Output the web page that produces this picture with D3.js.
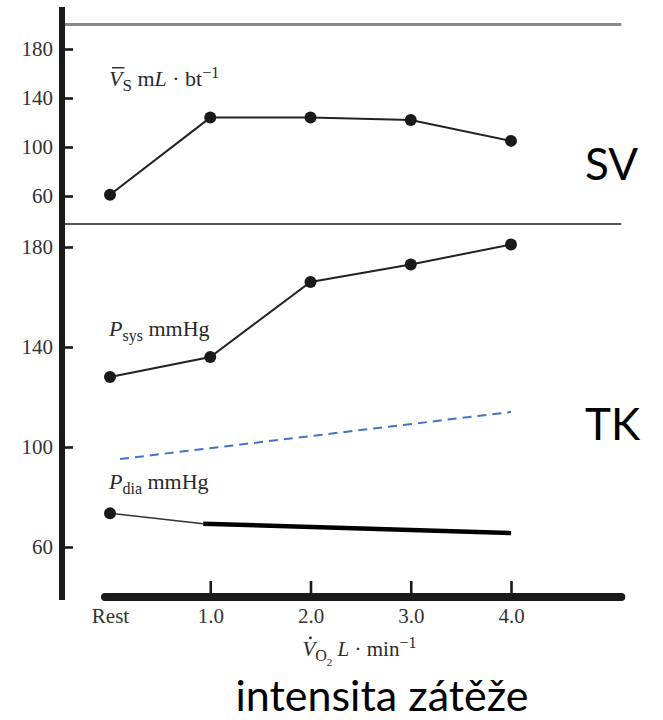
<!DOCTYPE html>
<html>
<head>
<meta charset="utf-8">
<script src="https://cdn.jsdelivr.net/npm/d3@7"></script>
<style>
  html, body { margin: 0; padding: 0; background: #fff; }
  svg { display: block; }
</style>
</head>
<body>
<svg id="chart" width="663" height="720"></svg>
<script>
// Exercise levels (VO2, L/min); 0 stands for rest
const levels = [0, 1, 2, 3, 4];
const levelLabels = ["Rest", "1.0", "2.0", "3.0", "4.0"];

// Stroke volume, mL per beat
const strokeVolume = [61, 124, 124, 122, 105];

// Systolic pressure, mmHg
const systolic = [128, 136, 166, 173, 181];

// Diastolic pressure, mmHg: measured point at rest, then the trend with load
const diastolicX = [0, 0.93];
const diastolic = [73.5, 69.3];
const diastolicTrendX = [0.93, 4];
const diastolicTrend = [69.3, 65.6];

// Mean arterial pressure trend (dashed)
const meanTrendX = [0.1, 4];
const meanTrend = [95.2, 114];

// Left axis ticks for both panels
const yTicks = [60, 100, 140, 180];

const svg = d3.select("#chart");

const serif = "'Liberation Serif', 'Times New Roman', serif";
const sans = "Lato, 'Open Sans', sans-serif";

// Scales
const x = d3.scaleLinear().domain([0, 4]).range([110, 511]);
const ySV = d3.scaleLinear().domain([60, 180]).range([196, 49]);
const yBP = d3.scaleLinear().domain([60, 180]).range([547, 247]);

const axisX = 62;           // left spine position
const xAxisY = 597;         // bottom spine position
const xSpan = [-0.05, 5.1]; // horizontal extent of the bottom spine (in VO2 units)

// Panel frame lines
svg.append("line")
  .attr("x1", axisX + 3).attr("x2", x(5.1))
  .attr("y1", ySV(200)).attr("y2", ySV(200))
  .attr("stroke", "#8a8a8a").attr("stroke-width", 3);

svg.append("line")
  .attr("x1", axisX + 3).attr("x2", x(5.1))
  .attr("y1", 224).attr("y2", 224)
  .attr("stroke", "#555").attr("stroke-width", 2);

const tickFont = 21;

// Left axes
function leftAxis(scale) {
  const g = svg.append("g")
    .attr("transform", `translate(${axisX + 3},0)`)
    .call(d3.axisLeft(scale).tickValues(yTicks).tickSize(-8).tickPadding(12));
  g.select(".domain").remove();
  g.selectAll(".tick line").attr("stroke", "#1a1a1a").attr("stroke-width", 2.6);
  g.selectAll(".tick text")
    .attr("font-family", serif).attr("font-size", tickFont).attr("fill", "#333");
  return g;
}
leftAxis(ySV);
leftAxis(yBP);

// Vertical spine
svg.append("line")
  .attr("x1", axisX).attr("x2", axisX)
  .attr("y1", 7).attr("y2", 600)
  .attr("stroke", "#1a1a1a").attr("stroke-width", 6);

// Bottom axis
const gx = svg.append("g")
  .attr("transform", `translate(0,${xAxisY})`)
  .call(d3.axisBottom(x).tickValues(levels)
    .tickFormat((d, i) => levelLabels[i])
    .tickSize(-16).tickPadding(11));
gx.select(".domain").remove();
gx.selectAll(".tick line")
  .attr("stroke", "#1a1a1a").attr("stroke-width", 2.6)
  .filter(d => d === 0).remove();
gx.selectAll(".tick text")
  .attr("font-family", serif).attr("font-size", tickFont).attr("fill", "#333");

svg.append("line")
  .attr("x1", x(xSpan[0])).attr("x2", x(xSpan[1]))
  .attr("y1", xAxisY).attr("y2", xAxisY)
  .attr("stroke", "#1a1a1a").attr("stroke-width", 8)
  .attr("stroke-linecap", "round");

// Series
function series(xs, ys, yScale, opts) {
  const pts = xs.map((v, i) => [v, ys[i]]);
  const line = d3.line().x(d => x(d[0])).y(d => yScale(d[1]));
  svg.append("path")
    .attr("d", line(pts))
    .attr("fill", "none")
    .attr("stroke", opts.color || "#222")
    .attr("stroke-width", opts.width || 2)
    .attr("stroke-dasharray", opts.dash || null);
  if (opts.dots) {
    svg.append("g").selectAll("circle")
      .data(pts.slice(0, opts.dots === true ? pts.length : opts.dots))
      .join("circle")
      .attr("cx", d => x(d[0])).attr("cy", d => yScale(d[1]))
      .attr("r", 6).attr("fill", "#1a1a1a");
  }
}

series(levels, strokeVolume, ySV, { dots: true });
series(levels, systolic, yBP, { dots: true });
series(meanTrendX, meanTrend, yBP, { color: "#4472c4", width: 2, dash: "9,6" });
series(diastolicX, diastolic, yBP, { color: "#333", width: 1.6, dots: 1 });
series(diastolicTrendX, diastolicTrend, yBP, { color: "#000", width: 4.5 });

// Rich serif labels built from parts: {t, it (italic), dy, size}
function richText(px, py, parts, size, anchor) {
  const t = svg.append("text")
    .attr("x", px).attr("y", py)
    .attr("font-family", serif).attr("font-size", size)
    .attr("fill", "#2a2a2a")
    .attr("text-anchor", anchor || "start");
  let shift = 0;
  parts.forEach(p => {
    const dy = (p.dy || 0) - shift;
    shift = p.dy || 0;
    t.append("tspan")
      .attr("dy", dy)
      .attr("font-style", p.it ? "italic" : "normal")
      .attr("font-size", p.size || size)
      .text(p.t);
  });
  return t;
}

const labelSize = 22;

// Stroke volume label with an overbar on V
const svY = 86;
const svLabel = richText(x(0) - 1, svY, [
  { t: "V", it: true },
  { t: "S", dy: 5, size: 17 },
  { t: " m" },
  { t: "L", it: true },
  { t: " \u00b7 bt" },
  { t: "\u22121", dy: -8, size: 16 }
], labelSize);
{
  const e = svLabel.node().getExtentOfChar(0);
  svg.append("line")
    .attr("x1", e.x + 3).attr("x2", e.x + e.width + 2)
    .attr("y1", svY - labelSize * 0.83).attr("y2", svY - labelSize * 0.83)
    .attr("stroke", "#2a2a2a").attr("stroke-width", 1.4);
}

richText(x(0) - 1, 336, [
  { t: "P", it: true },
  { t: "sys", dy: 5, size: 16 },
  { t: " mmHg" }
], labelSize);

richText(x(0) - 1, 489, [
  { t: "P", it: true },
  { t: "dia", dy: 5, size: 16 },
  { t: " mmHg" }
], labelSize);

// Horizontal axis title: V-dot O2 L · min-1
const titleY = 656;
const titleSize = 21;
const xTitle = richText(x(1.92), titleY, [
  { t: "V", it: true },
  { t: "O", dy: 5, size: 16 },
  { t: "2", dy: 10, size: 11 },
  { t: " L", it: true, dy: 0 },
  { t: " \u00b7 min" },
  { t: "\u22121", dy: -8, size: 16 }
], titleSize);
{
  const e = xTitle.node().getExtentOfChar(0);
  svg.append("circle")
    .attr("cx", e.x + e.width * 0.62).attr("cy", titleY - titleSize * 0.86)
    .attr("r", 1.4).attr("fill", "#2a2a2a");
}

// Panel names and caption
svg.append("text")
  .attr("x", 585).attr("y", 180)
  .attr("font-family", sans).attr("font-size", 44).attr("fill", "#000")
  .text("SV");

svg.append("text")
  .attr("x", 585).attr("y", 440)
  .attr("font-family", sans).attr("font-size", 44).attr("fill", "#000")
  .text("TK");

svg.append("text")
  .attr("x", 382).attr("y", 711)
  .attr("text-anchor", "middle")
  .attr("font-family", sans).attr("font-size", 43).attr("fill", "#000")
  .text("intensita zátěže");
</script>
</body>
</html>
